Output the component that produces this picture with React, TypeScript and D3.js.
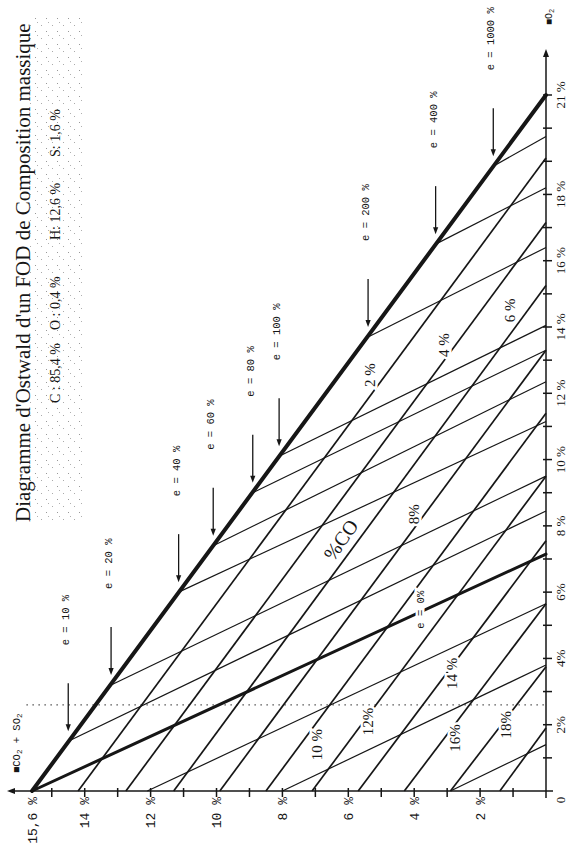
import React from 'react';
import * as d3 from 'd3';

const W = 568;
const H = 852;

// diagram bounds (% in the dry flue gas)
const co2Max = 15.6;
const o2Max = 21;
// the e = 0 % line meets the O2 axis here
const stoichEndO2 = 7.15;

// axis ticks and labels
const o2Ticks = d3.range(1, 22);
const o2LabelValues = [0, 2, 4, 6, 8, 10, 12, 14, 16, 18, 21];
const o2LabelText = ['0', '2%', '4%', '6%', '8 %', '10 %', '12 %', '14 %', '16 %', '18 %', '21 %'];
const co2Ticks = d3.range(1, 16);
const co2LabelValues = [15.6, 14, 12, 10, 8, 6, 4, 2];
const co2LabelText = ['15,6 %', '14 %', '12 %', '10 %', '8 %', '6 %', '4 %', '2 %'];

// excess air lines : from the complete combustion line to the O2 axis
const excessText = ['10', '20', '40', '60', '80', '100', '200', '400', '1000'];
const excessStartCO2 = [14.5, 13.2, 11.15, 10.1, 8.9, 8.1, 5.4, 3.35, 1.6];
const excessStartO2 = [1.5, 3.2, 6.0, 7.4, 9.0, 10.1, 13.7, 16.5, 18.85];
const excessEndO2 = [8.45, 9.5, 11.15, 12.35, 13.3, 14.05, 16.4, 18.2, 19.75];

// air defect lines (e < 0) : from the CO2 axis to the O2 axis
const defectStartCO2 = [12.1, 8.0, 2.9];
const defectEndO2 = [5.65, 3.8, 1.4];

// constant CO lines (2 % ... 20 %)
const coStartCO2 = [14.2, 12.75, 11.3, 9.9, 8.5, 7.1, 5.7, 4.3, 2.9, 1.4];
const coEndO2 = [19.1, 17.15, 15.25, 13.3, 11.4, 9.5, 7.55, 5.65, 3.75, 1.9];
const coLabelText = ['2 %', '4 %', '6 %', '8%', '10 %', '12%', '14 %', '16%', '18%'];
const coLabelO2 = [12.55, 13.45, 14.5, 8.35, 1.4, 2.1, 3.55, 1.6, 2.0];
const coLabelCO2 = [5.35, 3.1, 1.1, 4.0, 6.95, 5.4, 2.85, 2.75, 1.2];

// dotted reference line
const dottedO2 = 2.6;

const compositionText = ['C : 85,4 %', 'O : 0,4 %', 'H: 12,6 %', 'S: 1,6 %'];

const serif = "'Liberation Serif', 'Times New Roman', serif";
const mono = "'Liberation Mono', 'DejaVu Sans Mono', monospace";
const ink = '#161616';

export default function App() {
  // the whole diagram is drawn upright, then turned a quarter turn
  const x = d3.scaleLinear().domain([0, o2Max]).range([61, 757]);
  const y = d3.scaleLinear().domain([0, co2Max]).range([546, 32]);
  const seg = d3.line<[number, number]>().x((d) => x(d[0])).y((d) => y(d[1]));

  const halo = { stroke: '#fff', strokeWidth: 5, paintOrder: 'stroke' as const };
  const compU = [449, 522, 612, 695];

  return (
    <svg width={W} height={H} style={{ position: 'absolute', left: 0, top: 0, background: '#fff' }}>
      <defs>
        <pattern id="speck" width="13" height="11" patternUnits="userSpaceOnUse">
          <rect x="1" y="2" width="1" height="1" fill="#999" />
          <rect x="7" y="8" width="1" height="1" fill="#aaa" />
          <rect x="10" y="4" width="1" height="1" fill="#b0b0b0" />
        </pattern>
      </defs>
      <rect width={W} height={H} fill="#fff" />
      <g transform={`translate(0,${H}) rotate(-90)`}>
        {/* scanned grey area round the composition */}
        <rect x={330} y={30} width={505} height={54} fill="url(#speck)" />

        {/* title */}
        <text x={330} y={30} fontFamily={serif} fontSize={21} fill={ink}>
          Diagramme d'Ostwald d'un FOD de Composition massique
        </text>
        {compositionText.map((t, i) => (
          <text key={t} x={compU[i]} y={60} fontFamily={serif} fontSize={14} fill={ink}>
            {t}
          </text>
        ))}

        {/* dotted line */}
        <line
          x1={x(dottedO2)} x2={x(dottedO2)} y1={y(15.77)} y2={y(0)}
          stroke="#555" strokeWidth={1.2} strokeDasharray="1.5 4.5"
        />

        {/* air defect lines */}
        {defectStartCO2.map((c, i) => (
          <path key={`d${i}`} d={seg([[0, c], [defectEndO2[i], 0]]) || ''} stroke={ink} strokeWidth={1.2} fill="none" />
        ))}
        {/* excess air lines */}
        {excessStartCO2.map((c, i) => (
          <path key={`e${i}`} d={seg([[excessStartO2[i], c], [excessEndO2[i], 0]]) || ''} stroke={ink} strokeWidth={1.2} fill="none" />
        ))}
        {/* CO lines */}
        {coStartCO2.map((c, i) => (
          <path key={`c${i}`} d={seg([[0, c], [coEndO2[i], 0]]) || ''} stroke={ink} strokeWidth={1.7} fill="none" />
        ))}

        {/* complete combustion and e = 0 lines */}
        <path d={seg([[0, co2Max], [o2Max, 0]]) || ''} stroke={ink} strokeWidth={4} fill="none" strokeLinecap="round" />
        <path d={seg([[0, co2Max], [stoichEndO2, 0]]) || ''} stroke={ink} strokeWidth={3} fill="none" strokeLinecap="round" />

        {/* CO labels */}
        {coLabelText.map((t, i) => (
          <text
            key={t}
            x={x(coLabelO2[i])} y={y(coLabelCO2[i])}
            textAnchor="middle" dominantBaseline="central"
            fontFamily={serif} fontSize={15} fill={ink} {...halo}
          >
            {t}
          </text>
        ))}
        <text
          transform={`translate(${x(7.58)},${y(6.23)}) rotate(35)`}
          textAnchor="middle" dominantBaseline="central"
          fontFamily={serif} fontSize={20} fill={ink} {...halo}
        >
          %CO
        </text>
        <text
          x={x(5.47)} y={y(3.8)} textAnchor="middle" dominantBaseline="central"
          fontFamily={mono} fontSize={10.5} fill={ink} {...halo}
        >
          e = 0%
        </text>

        {/* excess air arrows */}
        {excessText.map((t, i) => {
          const v = y(excessStartCO2[i]);
          const tip = x(excessStartO2[i] + 0.3);
          const tail = x(excessStartO2[i] + 1.75);
          return (
            <g key={`a${t}`}>
              <line x1={tail} x2={tip + 5} y1={v} y2={v} stroke={ink} strokeWidth={1.3} />
              <path d={`M${tip},${v}L${tip + 7},${v - 2.6}L${tip + 7},${v + 2.6}Z`} fill={ink} />
              <text x={tail + 38} y={v + 1} fontFamily={mono} fontSize={10.5} fill={ink}>
                {`e = ${t} %`}
              </text>
            </g>
          );
        })}

        {/* O2 axis */}
        <line x1={x(0) - 7} x2={797} y1={y(0)} y2={y(0)} stroke={ink} strokeWidth={1.5} />
        <path d={`M803,${y(0)}L795,${y(0) - 3}L795,${y(0) + 3}Z`} fill={ink} />
        {o2Ticks.map((t) => (
          <line key={`ot${t}`} x1={x(t)} x2={x(t)} y1={y(0) - 3} y2={y(0) + 6} stroke={ink} strokeWidth={1.5} />
        ))}
        {o2LabelValues.map((t, i) => (
          <text
            key={`ol${t}`} x={x(t) - (t === 0 ? 9 : 0)} y={565}
            textAnchor="middle" fontFamily={serif} fontSize={13} fill={ink}
          >
            {o2LabelText[i]}
          </text>
        ))}
        <text x={827} y={552} fontFamily={mono} fontSize={10} fill={ink}>
          ■O<tspan fontSize={7} dy={2}>2</tspan>
        </text>

        {/* CO2 + SO2 axis */}
        <line x1={x(0)} x2={x(0)} y1={y(0) + 7} y2={14} stroke={ink} strokeWidth={1.5} />
        <path d={`M${x(0)},7L${x(0) - 3},15L${x(0) + 3},15Z`} fill={ink} />
        {co2Ticks.map((t) => (
          <line key={`ct${t}`} x1={x(0) - 6} x2={x(0) + 3} y1={y(t)} y2={y(t)} stroke={ink} strokeWidth={1.5} />
        ))}
        {co2LabelValues.map((t, i) => (
          <text
            key={`cl${t}`} x={55} y={y(t) + 4.5}
            textAnchor="end" fontFamily={mono} fontSize={13} fill={ink}
          >
            {co2LabelText[i]}
          </text>
        ))}
        <text x={79} y={20} fontFamily={mono} fontSize={10.5} fill={ink}>
          ■CO<tspan fontSize={7.5} dy={2}>2</tspan>
          <tspan dy={-2}> + SO</tspan>
          <tspan fontSize={7.5} dy={2}>2</tspan>
        </text>
      </g>
    </svg>
  );
}
